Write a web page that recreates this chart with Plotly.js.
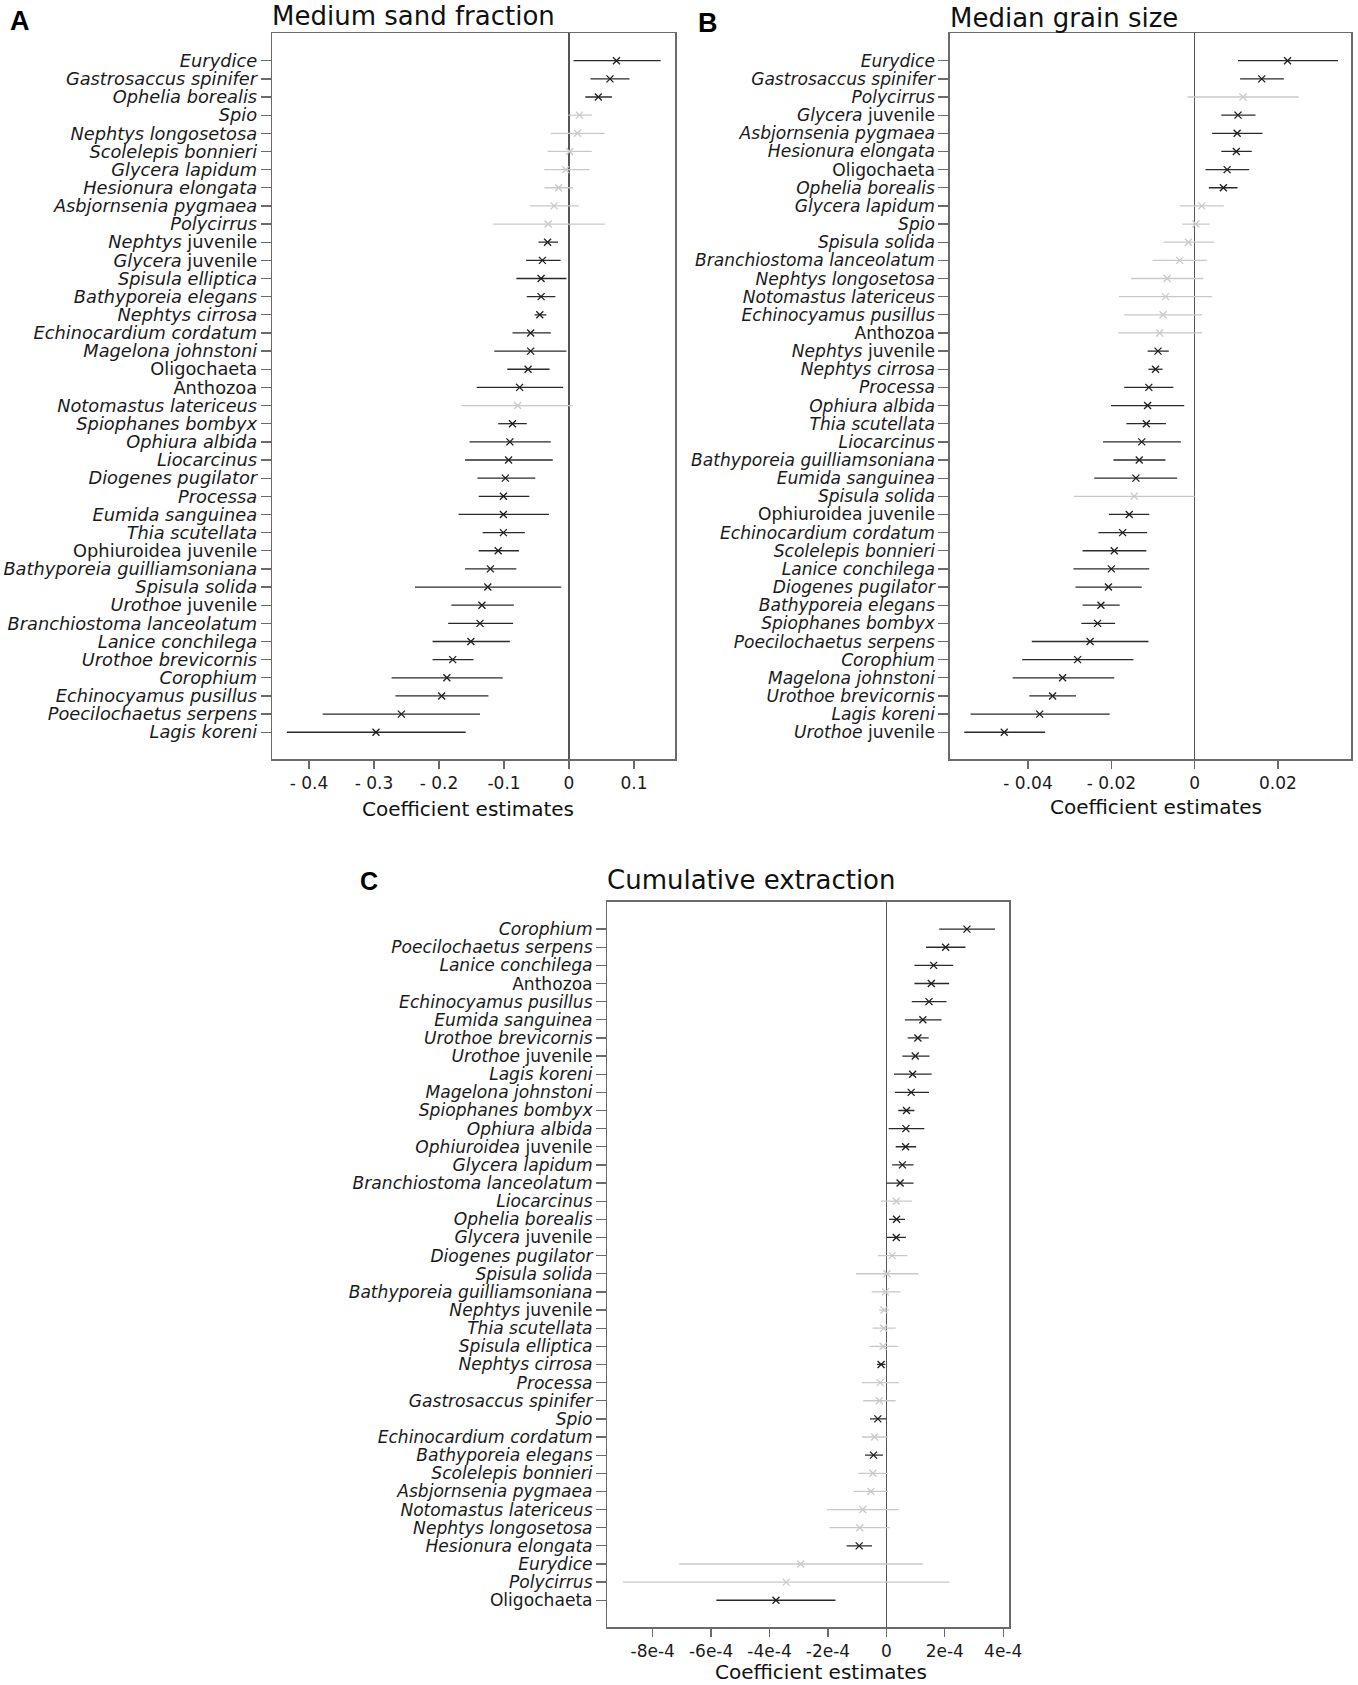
<!DOCTYPE html>
<html>
<head>
<meta charset="utf-8">
<script src="https://cdn.plot.ly/plotly-3.0.1.min.js"></script>
<style>html,body{margin:0;padding:0;background:#fff;}#chart{width:1358px;height:1685px;}</style>
</head>
<body>
<div id="chart"></div>
<script>
// ---------------- Panel A: Medium sand fraction ----------------
const speciesA = ["Eurydice","Gastrosaccus spinifer","Ophelia borealis","Spio","Nephtys longosetosa","Scolelepis bonnieri","Glycera lapidum","Hesionura elongata","Asbjornsenia pygmaea","Polycirrus","Nephtys juvenile","Glycera juvenile","Spisula elliptica","Bathyporeia elegans","Nephtys cirrosa","Echinocardium cordatum","Magelona johnstoni","Oligochaeta","Anthozoa","Notomastus latericeus","Spiophanes bombyx","Ophiura albida","Liocarcinus","Diogenes pugilator","Processa","Eumida sanguinea","Thia scutellata","Ophiuroidea juvenile","Bathyporeia guilliamsoniana","Spisula solida","Urothoe juvenile","Branchiostoma lanceolatum","Lanice conchilega","Urothoe brevicornis","Corophium","Echinocyamus pusillus","Poecilochaetus serpens","Lagis koreni"];
const estA  = [0.073,0.063,0.045,0.016,0.013,0.001,-0.005,-0.016,-0.023,-0.032,-0.033,-0.041,-0.043,-0.043,-0.045,-0.059,-0.059,-0.063,-0.076,-0.079,-0.087,-0.091,-0.093,-0.098,-0.101,-0.101,-0.101,-0.109,-0.121,-0.125,-0.134,-0.137,-0.151,-0.179,-0.188,-0.196,-0.258,-0.297];
const lowA  = [0.007,0.033,0.025,-0.001,-0.028,-0.033,-0.038,-0.038,-0.060,-0.117,-0.047,-0.066,-0.081,-0.065,-0.053,-0.087,-0.115,-0.095,-0.142,-0.165,-0.109,-0.153,-0.160,-0.141,-0.139,-0.170,-0.133,-0.139,-0.160,-0.237,-0.181,-0.186,-0.210,-0.210,-0.273,-0.267,-0.379,-0.434];
const highA = [0.141,0.093,0.066,0.035,0.055,0.035,0.031,0.006,0.015,0.055,-0.017,-0.013,-0.004,-0.021,-0.035,-0.028,-0.004,-0.030,-0.009,0.006,-0.065,-0.028,-0.025,-0.052,-0.061,-0.031,-0.068,-0.077,-0.081,-0.012,-0.085,-0.086,-0.091,-0.147,-0.102,-0.124,-0.137,-0.159];
const sigA  = [1,1,1,0,0,0,0,0,0,0,1,1,1,1,1,1,1,1,1,0,1,1,1,1,1,1,1,1,1,1,1,1,1,1,1,1,1,1];
const tickValsA = [-0.4,-0.3,-0.2,-0.1,0,0.1];
const tickTextA = ["- 0.4","- 0.3","- 0.2","-0.1","0","0.1"];

// ---------------- Panel B: Median grain size ----------------
const speciesB = ["Eurydice","Gastrosaccus spinifer","Polycirrus","Glycera juvenile","Asbjornsenia pygmaea","Hesionura elongata","Oligochaeta","Ophelia borealis","Glycera lapidum","Spio","Spisula solida","Branchiostoma lanceolatum","Nephtys longosetosa","Notomastus latericeus","Echinocyamus pusillus","Anthozoa","Nephtys juvenile","Nephtys cirrosa","Processa","Ophiura albida","Thia scutellata","Liocarcinus","Bathyporeia guilliamsoniana","Eumida sanguinea","Spisula solida","Ophiuroidea juvenile","Echinocardium cordatum","Scolelepis bonnieri","Lanice conchilega","Diogenes pugilator","Bathyporeia elegans","Spiophanes bombyx","Poecilochaetus serpens","Corophium","Magelona johnstoni","Urothoe brevicornis","Lagis koreni","Urothoe juvenile"];
const estB  = [0.0223,0.0161,0.0116,0.0104,0.0102,0.0100,0.0078,0.0069,0.0017,0.0003,-0.0015,-0.0036,-0.0066,-0.0070,-0.0076,-0.0084,-0.0088,-0.0094,-0.0110,-0.0113,-0.0116,-0.0127,-0.0133,-0.0141,-0.0145,-0.0157,-0.0173,-0.0193,-0.0200,-0.0207,-0.0225,-0.0233,-0.0251,-0.0281,-0.0317,-0.0341,-0.0372,-0.0457];
const lowB  = [0.0104,0.0109,-0.0017,0.0064,0.0042,0.0064,0.0026,0.0034,-0.0036,-0.0029,-0.0075,-0.0101,-0.0153,-0.0182,-0.0169,-0.0184,-0.0113,-0.0111,-0.0169,-0.0201,-0.0164,-0.0220,-0.0195,-0.0241,-0.0290,-0.0206,-0.0231,-0.0269,-0.0291,-0.0286,-0.0269,-0.0272,-0.0391,-0.0414,-0.0437,-0.0397,-0.0538,-0.0553];
const highB = [0.0344,0.0214,0.0250,0.0146,0.0163,0.0137,0.0131,0.0103,0.0070,0.0036,0.0047,0.0029,0.0021,0.0042,0.0018,0.0018,-0.0062,-0.0077,-0.0051,-0.0025,-0.0069,-0.0033,-0.0070,-0.0042,0.0000,-0.0109,-0.0114,-0.0116,-0.0109,-0.0127,-0.0180,-0.0191,-0.0111,-0.0147,-0.0193,-0.0285,-0.0204,-0.0359];
const sigB  = [1,1,0,1,1,1,1,1,0,0,0,0,0,0,0,0,1,1,1,1,1,1,1,1,0,1,1,1,1,1,1,1,1,1,1,1,1,1];
const tickValsB = [-0.04,-0.02,0,0.02];
const tickTextB = ["- 0.04","- 0.02","0","0.02"];

// ---------------- Panel C: Cumulative extraction ----------------
const speciesC = ["Corophium","Poecilochaetus serpens","Lanice conchilega","Anthozoa","Echinocyamus pusillus","Eumida sanguinea","Urothoe brevicornis","Urothoe juvenile","Lagis koreni","Magelona johnstoni","Spiophanes bombyx","Ophiura albida","Ophiuroidea juvenile","Glycera lapidum","Branchiostoma lanceolatum","Liocarcinus","Ophelia borealis","Glycera juvenile","Diogenes pugilator","Spisula solida","Bathyporeia guilliamsoniana","Nephtys juvenile","Thia scutellata","Spisula elliptica","Nephtys cirrosa","Processa","Gastrosaccus spinifer","Spio","Echinocardium cordatum","Bathyporeia elegans","Scolelepis bonnieri","Asbjornsenia pygmaea","Notomastus latericeus","Nephtys longosetosa","Hesionura elongata","Eurydice","Polycirrus","Oligochaeta"];
const estC  = [2.76e-4,2.03e-4,1.62e-4,1.54e-4,1.46e-4,1.25e-4,1.08e-4,0.99e-4,0.90e-4,0.85e-4,0.69e-4,0.67e-4,0.66e-4,0.55e-4,0.47e-4,0.34e-4,0.35e-4,0.34e-4,0.20e-4,0.02e-4,-0.03e-4,-0.08e-4,-0.09e-4,-0.11e-4,-0.18e-4,-0.21e-4,-0.24e-4,-0.29e-4,-0.40e-4,-0.44e-4,-0.46e-4,-0.53e-4,-0.81e-4,-0.91e-4,-0.93e-4,-2.93e-4,-3.43e-4,-3.78e-4];
const lowC  = [1.81e-4,1.36e-4,0.96e-4,0.96e-4,0.87e-4,0.64e-4,0.73e-4,0.55e-4,0.26e-4,0.29e-4,0.41e-4,0.08e-4,0.32e-4,0.20e-4,0.00e-4,-0.18e-4,0.09e-4,0.02e-4,-0.29e-4,-1.04e-4,-0.50e-4,-0.24e-4,-0.47e-4,-0.58e-4,-0.32e-4,-0.84e-4,-0.79e-4,-0.56e-4,-0.84e-4,-0.73e-4,-0.96e-4,-1.13e-4,-2.04e-4,-1.95e-4,-1.36e-4,-7.09e-4,-9.02e-4,-5.82e-4];
const highC = [3.72e-4,2.71e-4,2.29e-4,2.15e-4,2.06e-4,1.89e-4,1.45e-4,1.48e-4,1.55e-4,1.46e-4,0.96e-4,1.30e-4,1.02e-4,0.93e-4,0.93e-4,0.88e-4,0.64e-4,0.67e-4,0.72e-4,1.10e-4,0.49e-4,0.09e-4,0.32e-4,0.40e-4,-0.03e-4,0.43e-4,0.32e-4,0.00e-4,0.05e-4,-0.12e-4,0.05e-4,0.06e-4,0.43e-4,0.11e-4,-0.49e-4,1.25e-4,2.16e-4,-1.74e-4];
const sigC  = [1,1,1,1,1,1,1,1,1,1,1,1,1,1,1,0,1,1,0,0,0,0,0,0,1,0,0,1,0,1,0,0,0,0,1,0,0,1];
const tickValsC = [-8e-4,-6e-4,-4e-4,-2e-4,0,2e-4,4e-4];
const tickTextC = ["-8e-4","-6e-4","-4e-4","-2e-4","0","2e-4","4e-4"];

const panelTitles = ["Medium sand fraction","Median grain size","Cumulative extraction"];
const panelLetters = ["A","B","C"];
const xAxisTitle = "Coefficient estimates";

// ---------------- rendering ----------------
const W = 1358, H = 1685;
const fx = p => p / W;
const fy = p => 1 - p / H;
const FONT = "DejaVu Sans, Verdana, sans-serif";
const SIG_COLOR = "#1e1e1e", NS_COLOR = "#c9c9c9", FRAME = "#6a6a6a";

function label(name, upright) {
  return name.split(" ").map(w => upright.includes(w) ? w : "<i>" + w + "</i>").join(" ");
}

const panels = [
  {sp: speciesA, est: estA, lo: lowA, hi: highA, sig: sigA, tv: tickValsA, tt: tickTextA,
   frame: [272, 675.3, 33.3, 759.3], range: [-0.457, 0.1635], yfont: 17.8,
   upright: ["juvenile","Oligochaeta","Anthozoa","Ophiuroidea"]},
  {sp: speciesB, est: estB, lo: lowB, hi: highB, sig: sigB, tv: tickValsB, tt: tickTextB,
   frame: [949.7, 1351.3, 33.3, 759.3], range: [-0.0588, 0.0376], yfont: 17.1,
   upright: ["juvenile","Oligochaeta","Anthozoa","Ophiuroidea"]},
  {sp: speciesC, est: estC, lo: lowC, hi: highC, sig: sigC, tv: tickValsC, tt: tickTextC,
   frame: [607.3, 1009.3, 901.7, 1627.3], range: [-9.555e-4, 4.21e-4], yfont: 17.1,
   upright: ["juvenile","Oligochaeta","Anthozoa"]}
];

const traces = [];
const layout = {
  width: W, height: H, margin: {l: 0, r: 0, t: 0, b: 0},
  paper_bgcolor: "#fff", plot_bgcolor: "#fff", showlegend: false,
  hovermode: false, annotations: []
};

panels.forEach((p, k) => {
  const sx = k === 0 ? "" : String(k + 1);
  const xa = "x" + sx, ya = "y" + sx;
  [0, 1].forEach(flag => {
    const idx = p.sp.map((_, i) => i).filter(i => p.sig[i] === flag);
    const col = flag ? SIG_COLOR : NS_COLOR;
    traces.push({
      type: "scatter", mode: "markers", xaxis: xa, yaxis: ya,
      x: idx.map(i => p.est[i]), y: idx,
      marker: {symbol: "x-thin", size: 7, color: col, line: {color: col, width: 1.3}},
      error_x: {type: "data", symmetric: false,
                array: idx.map(i => p.hi[i] - p.est[i]),
                arrayminus: idx.map(i => p.est[i] - p.lo[i]),
                width: 0, thickness: 1.3, color: flag ? "#2a2a2a" : NS_COLOR},
      hoverinfo: "skip"
    });
  });
  const [l, r, t, b] = p.frame;
  const n = p.sp.length;
  layout["xaxis" + sx] = {
    domain: [fx(l), fx(r)], anchor: ya, range: p.range, automargin: false,
    showline: true, mirror: true, linecolor: FRAME, linewidth: 1.3,
    ticks: "outside", ticklen: 8, tickwidth: 1.3, tickcolor: FRAME,
    tickmode: "array", tickvals: p.tv, ticktext: p.tt,
    tickfont: {family: FONT, size: 17, color: "#1a1a1a"},
    showgrid: false, zeroline: true, zerolinecolor: "#555", zerolinewidth: 1.2, fixedrange: true
  };
  layout["yaxis" + sx] = {
    domain: [fy(b), fy(t)], anchor: xa, range: [n + 0.49, -1.51], automargin: false,
    showline: true, mirror: true, linecolor: FRAME, linewidth: 1.3,
    ticks: "outside", ticklen: 10, tickwidth: 1.3, tickcolor: FRAME,
    tickmode: "array", tickvals: p.sp.map((_, i) => i), ticktext: p.sp.map(s => label(s, p.upright)),
    tickfont: {family: FONT, size: p.yfont, color: "#1a1a1a"},
    showgrid: false, zeroline: false, fixedrange: true
  };
  // panel title
  layout.annotations.push({
    xref: "paper", yref: "paper", x: fx(l - 2), y: fy([25, 26.5, 889][k] - 0.346 * 26),
    xanchor: "left", yanchor: "middle", showarrow: false,
    text: panelTitles[k], font: {family: FONT, size: 26, color: "#111"}
  });
  // panel letter
  layout.annotations.push({
    xref: "paper", yref: "paper", x: fx([8, 696, 358][k]), y: fy([30.5, 32.5, 889.3][k] - 0.35 * [27, 27, 25][k]),
    xanchor: "left", yanchor: "middle", showarrow: false,
    text: panelLetters[k], font: {family: "Liberation Sans, Arial, sans-serif", size: [27, 27, 25][k], color: "#000", weight: "bold"}
  });
  // x-axis title
  layout.annotations.push({
    xref: "paper", yref: "paper", x: fx([468, 1156, 821][k]), y: fy([816, 814, 1679.3][k] - 0.346 * 20),
    xanchor: "center", yanchor: "middle", showarrow: false,
    text: xAxisTitle, font: {family: FONT, size: 20, color: "#111"}
  });
});

Plotly.newPlot("chart", traces, layout, {displayModeBar: false, staticPlot: true});
</script>
</body>
</html>
